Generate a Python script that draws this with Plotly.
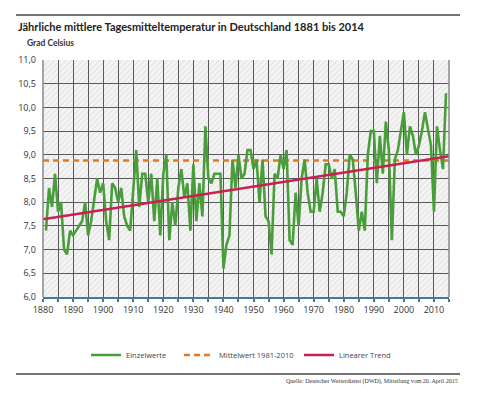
import plotly.graph_objects as go
import base64

# ---------------- data ----------------
years = list(range(1881, 2015))
temps = [
    7.4, 8.3, 7.9, 8.6, 7.8, 8.0, 7.0, 6.9, 7.4, 7.3,   # 1881-1890
    7.4, 7.5, 7.6, 8.0, 7.3, 7.6, 8.1, 8.5, 8.2, 8.4,   # 1891-1900
    7.6, 7.2, 8.4, 8.3, 8.0, 8.3, 7.7, 7.5, 7.4, 8.3,   # 1901-1910
    9.1, 7.9, 8.6, 8.6, 8.0, 8.6, 7.6, 8.5, 7.3, 8.6,   # 1911-1920
    9.0, 7.2, 8.0, 7.5, 8.3, 8.7, 8.1, 8.4, 7.4, 8.8,   # 1921-1930
    7.6, 8.4, 7.7, 9.6, 8.5, 8.4, 8.6, 8.6, 8.6, 6.6,   # 1931-1940
    7.1, 7.3, 8.9, 8.3, 9.0, 8.5, 8.6, 9.1, 9.1, 8.7,   # 1941-1950
    8.9, 8.0, 8.9, 7.7, 7.6, 6.9, 8.6, 8.5, 9.0, 8.7,   # 1951-1960
    9.1, 7.2, 7.1, 8.2, 7.5, 8.5, 8.9, 8.2, 7.8, 7.8,   # 1961-1970
    8.5, 7.8, 8.2, 8.8, 8.8, 8.5, 8.7, 7.8, 7.8, 7.7,   # 1971-1980
    8.2, 9.0, 8.9, 8.2, 7.4, 7.8, 7.4, 9.0, 9.5, 9.5,   # 1981-1990
    8.4, 9.4, 8.6, 9.7, 9.1, 7.2, 8.9, 9.1, 9.5, 9.9,   # 1991-2000
    9.0, 9.6, 9.4, 9.0, 9.2, 9.5, 9.9, 9.5, 9.2, 7.8,   # 2001-2010
    9.6, 9.1, 8.7, 10.3,                                # 2011-2014
]
mean_years = [1880, 2015]
mean_1981_2010 = [8.88, 8.88]
trend_years = [1880, 2015]
trend_values = [7.64, 8.97]

x_ticks = [1880, 1890, 1900, 1910, 1920, 1930, 1940, 1950, 1960, 1970, 1980, 1990, 2000, 2010]
y_ticks = [6.0, 6.5, 7.0, 7.5, 8.0, 8.5, 9.0, 9.5, 10.0, 10.5, 11.0]

series_names = ["Einzelwerte", "Mittelwert 1981-2010", "Linearer Trend"]
title_text = "Jährliche mittlere Tagesmitteltemperatur in Deutschland 1881 bis 2014"
unit_text = "Grad Celsius"
source_text = "Quelle: Deutscher Wetterdienst (DWD), Mitteilung vom 20. April 2015"

# ---------------- layout geometry (pixels) ----------------
WIDTH, HEIGHT = 477, 395
L, R, T, B = 43, 449, 60, 297
PW, PH = R - L, B - T


def px(x):
    return (x - L) / PW


def py(y):
    return (B - y) / PH


TITLEFONT = "Lato, Roboto, sans-serif"
SANS = "Open Sans, Noto Sans, sans-serif"

# hatched background as an svg image
svg = (
    f'<svg xmlns="http://www.w3.org/2000/svg" width="{PW}" height="{PH}" viewBox="0 0 {PW} {PH}">'
    '<defs><pattern id="h" width="4" height="4" patternUnits="userSpaceOnUse" '
    'patternTransform="rotate(45)">'
    '<rect width="4" height="4" fill="#f4f4f4"/>'
    '<line x1="0" y1="0" x2="0" y2="4" stroke="#d4d4d4" stroke-width="1.1"/>'
    '</pattern></defs>'
    f'<rect width="{PW}" height="{PH}" fill="url(#h)"/></svg>'
)
svg_uri = "data:image/svg+xml;base64," + base64.b64encode(svg.encode()).decode()

GREEN = "#4a9d3b"
ORANGE = "#e07a22"
RED = "#cb1f50"
GRID = "#5a5a5a"
AXISBLUE = "#4b7896"

fig = go.Figure()
fig.add_trace(go.Scatter(
    x=mean_years, y=mean_1981_2010, mode="lines", name=series_names[1],
    line=dict(color=ORANGE, width=2.5, dash="6px,4px"), legend="legend2",
    hoverinfo="skip"))
fig.add_trace(go.Scatter(
    x=years, y=temps, mode="lines", name=series_names[0],
    line=dict(color=GREEN, width=2.6), legend="legend"))
fig.add_trace(go.Scatter(
    x=trend_years, y=trend_values, mode="lines", name=series_names[2],
    line=dict(color=RED, width=2.5), legend="legend3", hoverinfo="skip"))

legend_common = dict(orientation="h", xanchor="left", yanchor="middle",
                     bgcolor="rgba(0,0,0,0)", itemwidth=30,
                     font=dict(family=SANS, size=7.5, color="#444"))

fig.update_layout(
    width=WIDTH, height=HEIGHT,
    margin=dict(l=L, r=WIDTH - R, t=T, b=HEIGHT - B, pad=0),
    paper_bgcolor="white", plot_bgcolor="white",
    separators=",.",
    showlegend=True,
    legend=dict(x=px(86), y=py(355), **legend_common),
    legend2=dict(x=px(179), y=py(355), **legend_common),
    legend3=dict(x=px(299), y=py(355), **legend_common),
    xaxis=dict(
        range=[1880, 2015], tickmode="array", tickvals=x_ticks,
        ticktext=[str(v) for v in x_ticks],
        showgrid=True, gridcolor=GRID, gridwidth=1.2,
        minor=dict(dtick=5, tick0=1880, showgrid=True, gridcolor=GRID, gridwidth=1.2,
                   ticks="outside", ticklen=3, tickcolor=AXISBLUE, tickwidth=1.5),
        ticks="outside", ticklen=3, tickcolor=AXISBLUE, tickwidth=1.5,
        showline=True, linecolor=AXISBLUE, linewidth=2,
        tickfont=dict(family=SANS, size=9, color="#333"),
        zeroline=False, fixedrange=True,
    ),
    yaxis=dict(
        range=[6, 11], tickmode="array", tickvals=y_ticks, tickformat=".1f",
        showgrid=True, gridcolor=GRID, gridwidth=1.2,
        ticks="", ticklabelstandoff=6,
        showline=False,
        tickfont=dict(family=SANS, size=9, color="#333"),
        zeroline=False, fixedrange=True,
    ),
    images=[dict(source=svg_uri, xref="paper", yref="paper", x=0, y=1,
                 sizex=1, sizey=1, sizing="stretch", layer="below",
                 xanchor="left", yanchor="top")],
    shapes=[
        dict(type="line", xref="paper", yref="paper", x0=px(16), x1=px(460),
             y0=py(15), y1=py(15), line=dict(color="#444", width=1.5)),
        dict(type="line", xref="paper", yref="paper", x0=px(16), x1=px(460),
             y0=py(374), y1=py(374), line=dict(color="#444", width=1.5)),
        dict(type="line", xref="paper", yref="paper", x0=1, x1=1, y0=0, y1=1,
             line=dict(color="#8a8a8a", width=1.5)),
        dict(type="line", xref="paper", yref="paper", x0=0, x1=0, y0=0, y1=1,
             line=dict(color="#8a8a8a", width=1.5)),
    ],
    annotations=[
        dict(text=f"<b>{title_text}</b>", xref="paper", yref="paper",
             x=px(16), y=py(27), xanchor="left", yanchor="middle", showarrow=False,
             font=dict(family=TITLEFONT, size=11, color="#222")),
        dict(text=f"<b>{unit_text}</b>", xref="paper", yref="paper",
             x=px(25), y=py(43), xanchor="left", yanchor="middle", showarrow=False,
             font=dict(family=TITLEFONT, size=8.5, color="#333")),
        dict(text=source_text, xref="paper", yref="paper",
             x=px(460), y=py(381), xanchor="right", yanchor="middle", showarrow=False,
             font=dict(family="Liberation Serif, serif", size=6, color="#333")),
    ],
)

fig.write_html("out.html", config={"displayModeBar": False})

# remove default body margin so the figure sits at the page origin
with open("out.html", "r", encoding="utf-8") as f:
    html = f.read()
html = html.replace("<head>", "<head><style>html,body{margin:0;padding:0;overflow:hidden;}</style>", 1)
with open("out.html", "w", encoding="utf-8") as f:
    f.write(html)
